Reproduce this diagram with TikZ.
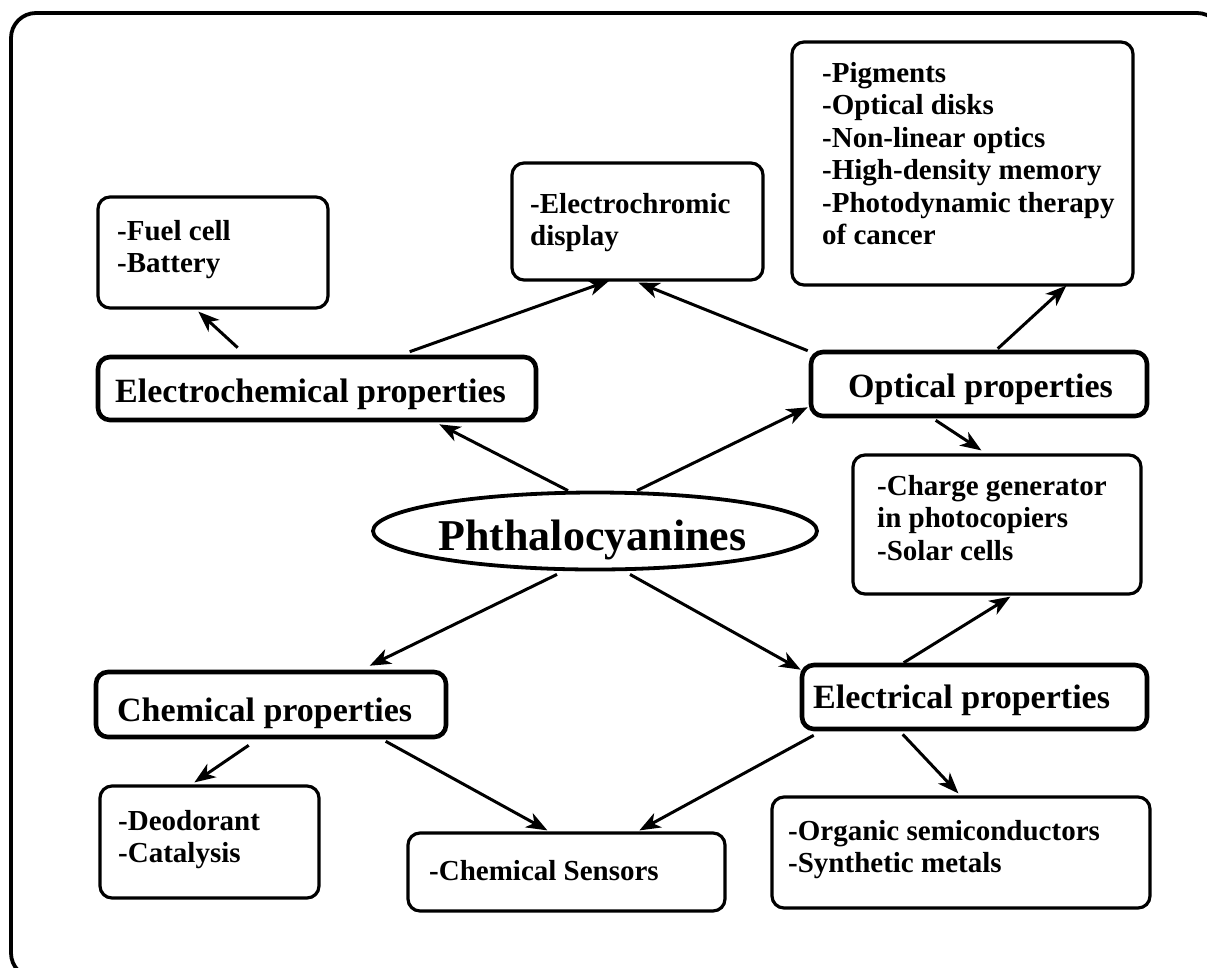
\documentclass[tikz,border=0pt]{standalone}
\usepackage{fontspec}
\setmainfont{Liberation Serif}
\usetikzlibrary{shapes.geometric,arrows.meta,calc}
\newcommand\mlines[1]{\begin{tabular}[t]{@{}l@{}}#1\end{tabular}}
\tikzset{
  itembox/.style={draw, line width=3.2pt, rounded corners=12pt, inner sep=0pt},
  propbox/.style={draw, line width=4.6pt, rounded corners=12pt, inner sep=0pt},
  frame/.style={draw, line width=3.8pt, rounded corners=25pt},
  conn/.style={line width=3pt, -{Stealth[length=21pt,width=16pt,inset=6pt]}},
  itemtxt/.style={font=\bfseries\fontsize{29}{32.5}\selectfont, inner sep=0pt, anchor=base west},
  proptxt/.style={font=\bfseries\fontsize{34}{38}\selectfont, inner sep=0pt, anchor=base west},
  maintxt/.style={font=\bfseries\fontsize{44}{50}\selectfont, inner sep=0pt, anchor=base},
}
\begin{document}
\begin{tikzpicture}[x=1pt, y=-1pt]
\path[use as bounding box] (0,0) rectangle (1207,967);
\clip (0,0) rectangle (1207,967);
\fill[white] (0,0) rectangle (1207,967);
\draw[frame] (11,13) rectangle (1222,978);

% boxes
\node[itembox, minimum width=230pt, minimum height=111pt] (fuel) at (213,252.5) {};
\node[itembox, minimum width=251pt, minimum height=117pt] (echrom) at (637.5,221.5) {};
\node[itembox, minimum width=341pt, minimum height=243pt] (optlist) at (962.5,163.5) {};
\node[propbox, minimum width=336pt, minimum height=64pt] (optical) at (979,384) {};
\node[propbox, minimum width=438pt, minimum height=63pt] (elchem) at (317,388.5) {};
\node[itembox, minimum width=288pt, minimum height=139pt] (charge) at (997,524.5) {};
\node[draw, ellipse, line width=3.8pt, minimum width=444pt, minimum height=77pt, inner sep=0pt] (phth) at (595,531) {};
\node[propbox, minimum width=350pt, minimum height=65pt] (chem) at (271,704.5) {};
\node[propbox, minimum width=345pt, minimum height=64pt] (elec) at (974.5,697) {};
\node[itembox, minimum width=219pt, minimum height=112pt] (deo) at (209.5,842) {};
\node[itembox, minimum width=317pt, minimum height=78pt] (sens) at (566.5,872) {};
\node[itembox, minimum width=378pt, minimum height=111pt] (org) at (961,852.5) {};

% texts
\node[itemtxt] (fuelT) at (117,240) {\mlines{-Fuel cell\\-Battery}};
\node[itemtxt] (echromT) at (530,213) {\mlines{-Electrochromic\\display}};
\node[itemtxt] (optlistT) at (822,82) {\mlines{-Pigments\\-Optical disks\\-Non-linear optics\\-High-density memory\\-Photodynamic therapy\\of cancer}};
\node[proptxt] (opticalT) at (848,397) {Optical properties};
\node[proptxt] (elchemT) at (115,402) {Electrochemical properties};
\node[itemtxt] (chargeT) at (877,495) {\mlines{-Charge generator\\in photocopiers\\-Solar cells}};
\node[maintxt] (phthT) at (592.5,550) {Phthalocyanines};
\node[proptxt] (chemT) at (117,721) {Chemical properties};
\node[proptxt] (elecT) at (813,708) {Electrical properties};
\node[itemtxt] (deoT) at (118,830) {\mlines{-Deodorant\\-Catalysis}};
\node[itemtxt] (sensT) at (429,880) {-Chemical Sensors};
\node[itemtxt] (orgT) at (788,840) {\mlines{-Organic semiconductors\\-Synthetic metals}};

% connectors
\draw[conn] ($(elchem.north west)+(142,-7)$) -- ($(fuel.south west)+(102,2)$);
\draw[conn] ($(elchem.north west)+(314,-3)$) -- ($(echrom.south west)+(99,-1)$);
\draw[conn] ($(optical.north west)+(-1,1)$) -- ($(echrom.south west)+(128,1)$);
\draw[conn] ($(optical.north west)+(189,-1)$) -- ($(optlist.south west)+(276,-1)$);
\draw[conn] ($(optical.south west)+(127,2)$) -- ($(charge.north west)+(130,-3)$);
\draw[conn] ($(elec.north west)+(104,0)$) -- ($(charge.south west)+(159,1)$);
\draw[conn] ($(phth.north)+(-27,0)$) -- ($(elchem.south east)+(-99,2)$);
\draw[conn] ($(phth.north)+(42,0)$) -- ($(optical.south west)+(-1,-11)$);
\draw[conn] ($(phth.south)+(-38,3)$) -- ($(chem.north west)+(276,-4)$);
\draw[conn] ($(phth.south)+(35,3)$) -- ($(elec.north west)+(1,7)$);
\draw[conn] ($(chem.south west)+(155,6)$) -- ($(deo.north west)+(96,-2)$);
\draw[conn] ($(chem.south west)+(292,2)$) -- ($(sens.north west)+(141,-1)$);
\draw[conn] ($(elec.south west)+(14,4)$) -- ($(sens.north west)+(233,-1)$);
\draw[conn] ($(elec.south west)+(103,3)$) -- ($(org.north west)+(188,-2)$);
\end{tikzpicture}
\end{document}
